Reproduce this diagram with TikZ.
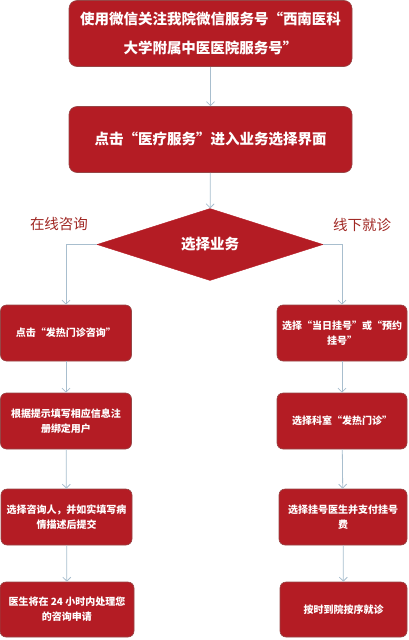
\documentclass[tikz,border=0pt]{standalone}
\usepackage{fontspec}
\newfontfamily\cjk{Noto Sans CJK SC}
\usetikzlibrary{arrows.meta,shapes.geometric}
\definecolor{boxred}{RGB}{180,28,36}
\definecolor{boxedge}{RGB}{150,70,70}
\definecolor{flowgray}{RGB}{168,190,206}
\definecolor{labelred}{RGB}{160,40,36}
\tikzset{
  bigstep/.style={rectangle,rounded corners=8pt,fill=boxred,draw=boxedge,line width=0.6pt,
    text=white,align=center,minimum width=283pt,minimum height=66pt,inner sep=0pt,
    font=\cjk\bfseries\fontsize{14.5}{29}\selectfont},
  smallstep/.style={rectangle,rounded corners=6pt,fill=boxred,draw=boxedge,line width=0.6pt,
    text=white,align=center,minimum width=131pt,minimum height=56pt,inner sep=0pt,
    font=\cjk\bfseries\fontsize{10}{15}\selectfont},
  choice/.style={diamond,fill=boxred,draw=boxred,text=white,inner sep=0pt,
    minimum width=226pt,minimum height=65pt,font=\cjk\bfseries\fontsize{14.5}{17}\selectfont},
  branchlabel/.style={text=labelred,font=\cjk\fontsize{14.5}{17}\selectfont},
  flow/.style={draw=flowgray,line width=0.8pt,-{Straight Barb[length=4pt,width=8pt]}}
}

\begin{document}
\begin{tikzpicture}[x=1pt,y=-1pt]
  \useasboundingbox (0,0) rectangle (408,640);
  % main line
  \node[bigstep] (follow) at (210.5,33.5) {使用微信关注我院微信服务号“西南医科\\大学附属中医医院服务号”};
  \node[bigstep] (service) at (210.5,139.5) {点击“医疗服务”进入业务选择界面};
  \node[choice] (select) at (210,244.5) {选择业务};
  \node[branchlabel] (online) at (59,224) {在线咨询};
  \node[branchlabel] (offline) at (362,225) {线下就诊};
  % online branch
  \node[smallstep] (fever) at (66,333) {点击“发热门诊咨询”};
  \node[smallstep] (register) at (66,421) {根据提示填写相应信息注\\册绑定用户};
  \node[smallstep] (describe) at (66.5,517) {选择咨询人，并如实填写病\\情描述后提交};
  \node[smallstep,minimum width=134pt,minimum height=55pt] (reply) at (67,609.5) {医生将在 24 小时内处理您\\的咨询申请};
  % offline branch
  \node[smallstep,minimum width=130pt] (booking) at (342,333) {选择“当日挂号”或“预约\\挂号”};
  \node[smallstep,minimum width=130pt] (dept) at (342,421) {选择科室“发热门诊”};
  \node[smallstep,minimum width=128pt] (doctor) at (343,517) {选择挂号医生并支付挂号\\费};
  \node[smallstep,minimum width=127pt,minimum height=55pt] (visit) at (343.5,609.5) {按时到院按序就诊};
  % connectors
  \draw[flow] (follow) -- (service);
  \draw[flow] (service) -- (select);
  \draw[flow] (select.west) -| (fever.north);
  \draw[flow] (select.east) -| (booking.north);
  \draw[flow] (fever) -- (register);
  \draw[flow] (register) -- (describe);
  \draw[flow] (describe) -- (reply);
  \draw[flow] (booking) -- (dept);
  \draw[flow] (dept) -- (doctor);
  \draw[flow] (doctor) -- (visit);
\end{tikzpicture}
\end{document}
